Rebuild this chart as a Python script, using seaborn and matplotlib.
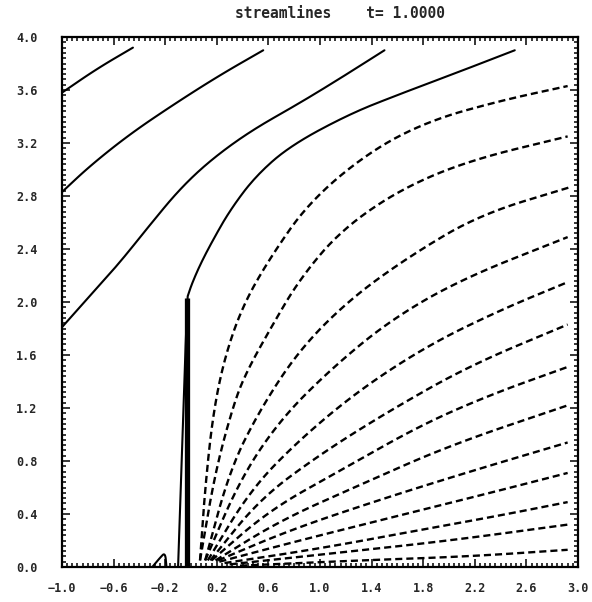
import numpy as np
import pandas as pd
import matplotlib
matplotlib.use("Agg")
import matplotlib.pyplot as plt
from matplotlib.ticker import MultipleLocator
import seaborn as sns

# ---- streamline traces (x, y) ----
solid_1_x = [-1.00, -0.73, -0.45]
solid_1_y = [3.58, 3.76, 3.92]
solid_2_x = [-1.00, -0.78, -0.47, -0.12, 0.22, 0.56]
solid_2_y = [2.83, 3.03, 3.27, 3.50, 3.71, 3.90]
solid_3_x = [-1.00, -0.78, -0.55, -0.32, -0.09, 0.15, 0.46, 0.84, 1.16, 1.50]
solid_3_y = [1.81, 2.05, 2.30, 2.58, 2.85, 3.07, 3.29, 3.50, 3.69, 3.90]
solid_4_x = [-0.10, -0.03, -0.02, 0.008, 0.07, 0.16, 0.30, 0.50, 0.77, 1.23, 1.62, 2.085, 2.51]
solid_4_y = [0.00, 2.03, 2.06, 2.14, 2.28, 2.45, 2.69, 2.95, 3.18, 3.42, 3.57, 3.74, 3.90]
eddy_x = [-0.30, -0.24, -0.20, -0.19]
eddy_y = [0.00, 0.07, 0.11, 0.00]

dash_1_x = [0.07, 0.11, 0.17, 0.26, 0.40, 0.61, 0.92, 1.39, 1.85, 2.40, 2.92]
dash_1_y = [0.05, 0.60, 1.15, 1.58, 1.97, 2.33, 2.76, 3.14, 3.37, 3.52, 3.63]
dash_2_x = [0.07, 0.19, 0.34, 0.44, 0.61, 0.84, 1.16, 1.62, 2.16, 2.92]
dash_2_y = [0.05, 0.73, 1.26, 1.49, 1.79, 2.17, 2.54, 2.85, 3.07, 3.25]
dash_3_x = [0.11, 0.30, 0.53, 0.84, 1.23, 1.70, 2.24, 2.95]
dash_3_y = [0.05, 0.73, 1.18, 1.64, 2.02, 2.35, 2.66, 2.87]
dash_4_x = [0.11, 0.38, 0.69, 1.08, 1.54, 2.09, 2.92]
dash_4_y = [0.05, 0.66, 1.11, 1.49, 1.86, 2.17, 2.49]
dash_5_x = [0.13, 0.46, 0.84, 1.31, 1.85, 2.40, 2.92]
dash_5_y = [0.05, 0.58, 0.96, 1.34, 1.68, 1.94, 2.15]
dash_6_x = [0.15, 0.53, 1.00, 1.54, 2.16, 2.92]
dash_6_y = [0.05, 0.51, 0.85, 1.18, 1.52, 1.83]
dash_7_x = [0.16, 0.61, 1.16, 1.78, 2.32, 2.92]
dash_7_y = [0.05, 0.43, 0.73, 1.07, 1.30, 1.51]
dash_8_x = [0.19, 0.69, 1.31, 2.01, 2.92]
dash_8_y = [0.05, 0.35, 0.62, 0.92, 1.22]
dash_9_x = [0.21, 0.77, 1.47, 2.16, 2.92]
dash_9_y = [0.05, 0.28, 0.51, 0.72, 0.94]
dash_10_x = [0.22, 0.84, 1.62, 2.32, 2.92]
dash_10_y = [0.04, 0.20, 0.39, 0.56, 0.71]
dash_11_x = [0.26, 1.00, 1.78, 2.40, 2.92]
dash_11_y = [0.03, 0.14, 0.28, 0.39, 0.49]
dash_12_x = [0.30, 1.16, 2.01, 2.92]
dash_12_y = [0.02, 0.11, 0.20, 0.32]
dash_13_x = [0.38, 1.31, 2.16, 2.92]
dash_13_y = [0.01, 0.05, 0.08, 0.13]

# plate
plate_x = [-0.03, -0.03]
plate_y = [0.00, 2.03]

x_ticks = [-1.0, -0.6, -0.2, 0.2, 0.6, 1.0, 1.4, 1.8, 2.2, 2.6, 3.0]
y_ticks = [0.0, 0.4, 0.8, 1.2, 1.6, 2.0, 2.4, 2.8, 3.2, 3.6, 4.0]
title_text = "streamlines    t= 1.0000"

solid_lines = [(solid_1_x, solid_1_y), (solid_2_x, solid_2_y), (solid_3_x, solid_3_y),
               (solid_4_x, solid_4_y), (eddy_x, eddy_y)]
dashed_lines = [(dash_1_x, dash_1_y), (dash_2_x, dash_2_y), (dash_3_x, dash_3_y),
                (dash_4_x, dash_4_y), (dash_5_x, dash_5_y), (dash_6_x, dash_6_y),
                (dash_7_x, dash_7_y), (dash_8_x, dash_8_y), (dash_9_x, dash_9_y),
                (dash_10_x, dash_10_y), (dash_11_x, dash_11_y), (dash_12_x, dash_12_y),
                (dash_13_x, dash_13_y)]

sns.set_style("white")
plt.rcParams['font.family'] = ['DejaVu Sans Mono', 'DejaVu Sans']

fig = plt.figure(figsize=(5.92, 6.02), dpi=100)
ax = fig.add_axes([0.1047, 0.0581, 0.8716, 0.8804])


def smooth(xs, ys, passes=4):
    """Chaikin corner cutting; keeps the end points of the trace."""
    p = np.column_stack([xs, ys]).astype(float)
    if len(p) < 3:
        return p[:, 0], p[:, 1]
    for _ in range(passes):
        q = 0.75 * p[:-1] + 0.25 * p[1:]
        r = 0.25 * p[:-1] + 0.75 * p[1:]
        mid = np.empty((2 * len(q), 2))
        mid[0::2] = q
        mid[1::2] = r
        p = np.vstack([p[:1], mid, p[-1:]])
    return p[:, 0], p[:, 1]


for xs, ys in solid_lines:
    sx, sy = smooth(xs, ys)
    sns.lineplot(x=sx, y=sy, sort=False, estimator=None, color="black", lw=1.5, ax=ax)

for xs, ys in dashed_lines:
    sx, sy = smooth(xs, ys)
    sns.lineplot(x=sx, y=sy, sort=False, estimator=None, color="black", lw=1.7,
                 ax=ax).lines[-1].set_dashes([3.0, 1.7])

sns.lineplot(x=plate_x, y=plate_y, sort=False, estimator=None, color="black", lw=3.8,
             ax=ax, solid_capstyle="butt")

ax.set_xlim(-1.0, 3.0)
ax.set_ylim(0.0, 4.0)
ax.set_xlabel("")
ax.set_ylabel("")

ax.set_xticks(x_ticks)
ax.set_yticks(y_ticks)
ax.xaxis.set_minor_locator(MultipleLocator(0.04))
ax.yaxis.set_minor_locator(MultipleLocator(0.04))
ax.set_xticklabels([f"{v:.1f}".replace("-", "\u2212") for v in x_ticks],
                   fontsize=8.5, fontweight="bold")
ax.set_yticklabels([f"{v:.1f}" for v in y_ticks], fontsize=8.5, fontweight="bold")
ax.tick_params(which="both", direction="in", top=True, right=True,
               bottom=True, left=True, color="black", width=1.1)
ax.tick_params(which="major", length=6)
ax.tick_params(which="minor", length=3)
ax.tick_params(axis="x", which="major", pad=11)
ax.tick_params(axis="y", which="major", pad=17.5)

for sp in ax.spines.values():
    sp.set_color("black")
    sp.set_linewidth(1.6)

fig.text(0.575, 0.978, title_text, ha="center", va="center",
         fontsize=10.5, fontweight="bold")

fig.savefig("out.png", dpi=100, facecolor="white")
